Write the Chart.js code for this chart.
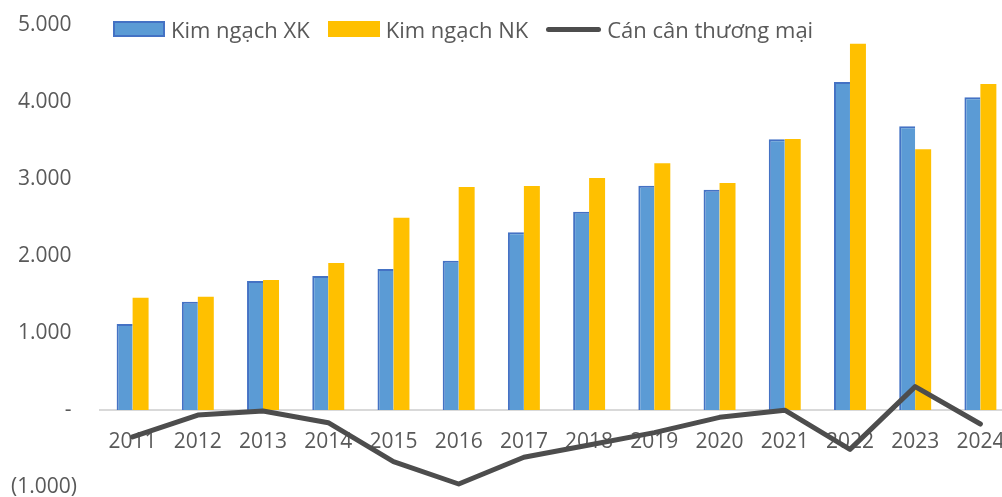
<!DOCTYPE html>
<html lang="vi">
<head>
<meta charset="utf-8">
<title>Kim ngạch XK, NK và cán cân thương mại</title>
<script src="https://cdn.jsdelivr.net/npm/chart.js@4.4.1/dist/chart.umd.min.js"></script>
<style>
  html, body { margin: 0; padding: 0; background: #fff; overflow: hidden; }
  #wrap { position: relative; width: 1013px; height: 500px; }
  #legend {
    position: absolute; left: 113px; top: 14px;
    display: flex; align-items: center;
    font-family: 'Open Sans', sans-serif; font-size: 22px; color: #595959;
  }
  #legend .item { display: flex; align-items: center; margin-right: 18px; }
  #legend .swatch { margin-right: 6px; box-sizing: border-box; }
</style>
</head>
<body>
<div id="wrap">
  <canvas id="tradeChart" width="1013" height="500"></canvas>
  <div id="legend"></div>
</div>
<script>
// Series
const years = ['2011', '2012', '2013', '2014', '2015', '2016', '2017', '2018', '2019', '2020', '2021', '2022', '2023', '2024'];
const exportValues = [1117, 1407, 1675, 1740, 1831, 1939, 2310, 2575, 2913, 2861, 3517, 4260, 3684, 4061];
const importValues = [1459, 1472, 1688, 1909, 2498, 2896, 2909, 3013, 3203, 2948, 3519, 4757, 3386, 4234];
const balanceValues = [-349, -65, -13, -165, -671, -961, -614, -455, -294, -95, -3, -511, 303, -182];
const seriesNames = ['Kim ngạch XK', 'Kim ngạch NK', 'Cán cân thương mại'];
const yTicks = [-1000, 0, 1000, 2000, 3000, 4000, 5000];

(function() {
  const colors = {
    text: '#595959',
    exportFill: '#5B9BD5',
    exportEdge: '#4472C4',
    importFill: '#FFC000',
    balance: '#4D4D4D',
    zeroLine: '#D9D9D9'
  };
  const tickFont = { family: 'Open Sans', size: 21 };

  // 5.000 / - / (1.000) like the accounting format
  const formatTick = (value) => {
    const abs = Math.abs(value).toString().replace(/\B(?=(\d{3})+(?!\d))/g, '.');
    if (value === 0) return '- ';
    if (value < 0) return '(' + abs + ')';
    return abs + ' ';
  };

  // axes should not eat any room of the plot, the layout is fixed by hand
  const noPadding = (scale) => {
    scale.paddingLeft = 0;
    scale.paddingRight = 0;
    scale.paddingTop = 0;
    scale.paddingBottom = 0;
  };

  const ctx = document.getElementById('tradeChart').getContext('2d');

  const chart = new Chart(ctx, {
    type: 'bar',
    data: {
      labels: years,
      datasets: [
        {
          type: 'bar',
          label: seriesNames[0],
          data: exportValues,
          backgroundColor: colors.exportFill,
          borderColor: colors.exportEdge,
          borderWidth: { left: 2, top: 2, right: 0, bottom: 0 },
          categoryPercentage: 0.49,
          barPercentage: 1.0,
          order: 1
        },
        {
          type: 'bar',
          label: seriesNames[1],
          data: importValues,
          backgroundColor: colors.importFill,
          borderWidth: 0,
          categoryPercentage: 0.49,
          barPercentage: 1.0,
          order: 1
        },
        {
          type: 'line',
          label: seriesNames[2],
          data: balanceValues,
          borderColor: colors.balance,
          borderWidth: 5,
          borderCapStyle: 'round',
          borderJoinStyle: 'round',
          tension: 0,
          fill: false,
          pointRadius: 0,
          pointHoverRadius: 0,
          order: 0
        }
      ]
    },
    options: {
      responsive: false,
      animation: false,
      layout: { padding: { top: 25, bottom: 13, left: 0, right: 0 } },
      plugins: {
        legend: { display: false },
        tooltip: { enabled: false }
      },
      scales: {
        x: {
          position: { y: 0 },
          grid: { display: false, drawTicks: false },
          border: { display: true, color: colors.zeroLine, width: 2 },
          ticks: { color: colors.text, font: tickFont, padding: 19, maxRotation: 0, autoSkip: false },
          afterFit: (scale) => { scale.height = 0; noPadding(scale); }
        },
        y: {
          min: yTicks[0],
          max: yTicks[yTicks.length - 1],
          grid: { display: false, drawTicks: false },
          border: { display: false },
          afterBuildTicks: (scale) => { scale.ticks = yTicks.map(v => ({ value: v })); },
          ticks: { color: colors.text, font: tickFont, padding: 23, callback: formatTick },
          afterFit: (scale) => { scale.width = 100; noPadding(scale); }
        }
      }
    }
  });

  // HTML legend built from the chart's datasets
  const legendEl = document.getElementById('legend');
  chart.data.datasets.forEach((ds) => {
    const item = document.createElement('div');
    item.className = 'item';
    const swatch = document.createElement('span');
    swatch.className = 'swatch';
    if (ds.type === 'line') {
      swatch.style.cssText = 'display:inline-block;width:55px;height:5px;border-radius:3px;background:' + ds.borderColor;
    } else {
      swatch.style.cssText = 'display:inline-block;width:52px;height:16px;background:' + ds.backgroundColor +
        (ds.borderColor ? ';border:2px solid ' + ds.borderColor : '');
    }
    const label = document.createElement('span');
    label.textContent = ds.label;
    item.appendChild(swatch);
    item.appendChild(label);
    legendEl.appendChild(item);
  });
})();
</script>
</body>
</html>
